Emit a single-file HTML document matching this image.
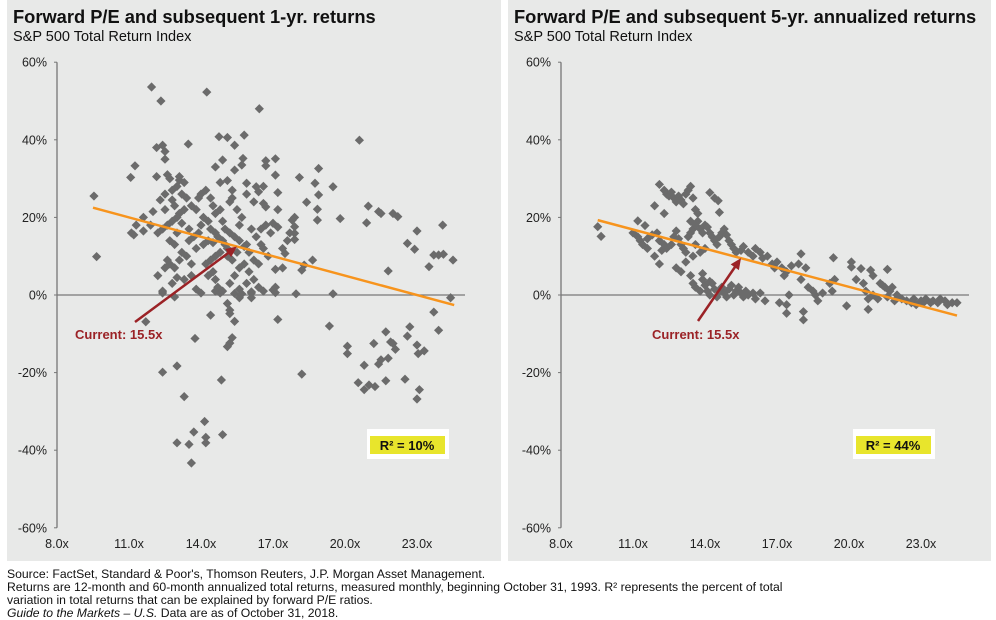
<!DOCTYPE html>
<html><head><meta charset="utf-8"><style>
body{margin:0;background:#fff;width:996px;height:620px;overflow:hidden;font-family:"Liberation Sans",sans-serif}
svg{display:block}
</style></head><body>
<svg id="c" width="996" height="620" xmlns="http://www.w3.org/2000/svg" font-family="Liberation Sans, sans-serif">
<rect x="7" y="0" width="494" height="561" fill="#e8e9e8"/>
<rect x="508" y="0" width="483" height="561" fill="#e8e9e8"/>
<text x="13" y="23" font-size="18.3" font-weight="bold" fill="#111">Forward P/E and subsequent 1-yr. returns</text>
<text x="13" y="41" font-size="14.5" fill="#111">S&amp;P 500 Total Return Index</text>
<text x="514" y="23" font-size="18.3" font-weight="bold" fill="#111">Forward P/E and subsequent 5-yr. annualized returns</text>
<text x="514" y="41" font-size="14.5" fill="#111">S&amp;P 500 Total Return Index</text>
<g id="g"></g>
<text x="7" y="578" font-size="12.2" fill="#111">Source: FactSet, Standard &amp; Poor's, Thomson Reuters, J.P. Morgan Asset Management.</text>
<text x="7" y="591" font-size="12.2" fill="#111">Returns are 12-month and 60-month annualized total returns, measured monthly, beginning October 31, 1993. R² represents the percent of total</text>
<text x="7" y="604" font-size="12.2" fill="#111">variation in total returns that can be explained by forward P/E ratios.</text>
<text x="7" y="617" font-size="12.2" fill="#111"><tspan font-style="italic">Guide to the Markets – U.S.</tspan> Data are as of October 31, 2018.</text>
</svg>
<script>
const xTicks=[8,11,14,17,20,23];
const yTicks=[60,40,20,0,-20,-40,-60];
const fit1yr=[[9.5,22.5],[24.55,-2.6]];
const fit5yr=[[9.53,19.3],[24.5,-5.3]];
const current=15.5;
const r2Labels=["R² = 10%","R² = 44%"];
const points1yr=[[9.54,25.5],[9.65,9.9],[11.94,53.6],[12.33,50],[14.24,52.3],[16.43,48],[13.47,38.9],[12.15,38],[12.4,38.6],[12.5,37],[12.5,35],[11.25,33.3],[11.07,30.3],[12.15,30.5],[12.6,31],[12.7,30],[13.1,29.6],[14.75,40.8],[15.1,40.6],[15.4,38.6],[15.8,41.2],[14.9,34.8],[15.75,35.2],[15.7,33.5],[15.4,32.2],[15.1,29.5],[16.7,34.6],[17.1,35.1],[17.1,30.9],[18.1,30.3],[18.9,32.6],[18.75,28.8],[19.5,27.9],[18.4,23.9],[18.9,25.8],[18.85,22.1],[18.85,19.3],[19.8,19.7],[20.6,39.9],[20.97,22.9],[21.4,21.5],[21.5,21],[22,21],[22.2,20.2],[20.9,18.6],[21.8,6.2],[22.6,13.3],[22.9,11.8],[23,16.5],[24.07,18],[23.5,7.3],[23.7,10.3],[23.9,10.3],[24.1,10.5],[24.5,9],[24.4,-0.7],[19.5,0.3],[17.96,0.3],[18.65,9],[18.2,6.4],[18.3,7.7],[17.2,26.4],[17.2,22],[17.9,20],[17.8,19.3],[17.9,17.6],[17.9,15.9],[17.9,14.3],[17.5,10.7],[17.4,7],[17.1,6.6],[17,1.3],[17.1,2],[16.7,33.3],[16.6,23.6],[16.7,22.7],[16.3,27.9],[15.9,28.8],[16.4,26.6],
[11.7,-6.9],[12.9,-0.5],[13.75,-11.2],[12.4,-19.9],[13,-18.3],[13.3,-26.2],[13,-38.1],[13.5,-38.5],[13.6,-43.3],[13.7,-35.3],[14.15,-32.6],[14.2,-36.7],[14.2,-38.1],[14.9,-36],[14.85,-21.9],[14.4,-5.2],[15.2,-12.4],[15.1,-13.3],[15.3,-11],[15.1,-2.2],[15.2,-3.9],[15.2,-4.8],[15.4,-6.8],[15.6,-0.7],[16.1,-0.7],[17.2,-6.3],[18.2,-20.4],[19.35,-8],[20.1,-13.2],[20.1,-15.1],[20.8,-18.1],[20.55,-22.6],[20.8,-24.4],[21,-23.2],[21.25,-23.6],[21.2,-12.5],[21.4,-17.8],[21.5,-16.7],[21.8,-16.3],[21.7,-22.1],[21.7,-9.5],[21.9,-12.1],[22,-12.5],[22.1,-14],[22.5,-21.7],[22.7,-8.2],[22.6,-10.6],[23,-12.9],[23.05,-15.1],[23.3,-14.4],[23.1,-24.4],[23,-26.8],[23.7,-4.4],[23.9,-9.1],[12.4,0.5],[14.6,1],[14.8,0.5],[15.4,0.4],[16.1,0.8],[17.1,0.6],
[12.5,26],[12.8,27],[13,28],[13.2,26],[13.4,25],[13.3,22],[13.1,21],[13,20],[12.8,19],[12.6,18],[12.4,17],[12.2,16],[11.9,18],[11.6,20],[11.3,18],[11.1,16],[11.2,15.5],[11.6,16.5],[12,21.5],[12.3,24.5],[12.5,22],[12.7,14],[12.9,13],[12.6,9],[12.7,8],[12.5,7],[12.2,5],[12.4,1],[13,4.5],[13.3,4],[13.6,5],[13.8,12],[13.5,14],[13.9,16],[14,18],[14.1,20],[13.8,22],[13.6,23],[13.9,25],[14,26],[14.2,27],[14.4,25],[14.5,23],[14.6,21],[14.3,19],[14.4,17],[14.6,16],[14.7,15],[14.9,14],[15,13],[15.1,12],[14.8,11],[14.6,10],[14.4,9],[14.2,8],[14.5,6],[14.3,5],[14.6,4],[14.7,2],[14.9,1],[15.2,3],[15.4,5],[15.6,7],[15.8,8],[16,6],[16.2,4],[16.4,2],[16.6,1],[16.2,9],[16,11],[15.9,13],[15.6,14],[15.4,15],[15.2,16],[15,17],[14.9,19],[14.8,22],[15.2,24],[15.3,25],[15.5,22],[15.7,20],[15.6,18],[16.1,17],[16.3,15],[16.5,13],[16.6,12],[16.8,10],[16.9,16],[16.7,18],[16.5,17],[16.2,24],[16.6,28],[16.4,8],[15.9,3],[15.6,1.5],[14,0.5],[13.8,1.5],[13.6,8],[13.4,10],[13.2,11],[13.1,9],[12.9,7],[12.8,3],[14.1,13],[14.3,14],[14.5,13.5],[13.7,15],[13.5,17],[13.2,18.5],[13,16],[12.9,23],[12.8,24.5],[13.3,29],[13.1,30.5],[14.6,33],[15.3,27],[15.9,26],[14.8,29],[15.1,10],[15.3,9],[15.5,11],[15.8,12.5],[17.4,12],[17.6,14],[17.7,16],[17.2,17.5],[17,18.5],[15.7,0.3],[16.1,0.5]];
const points5yr=[[9.53,17.6],[9.67,15.1],[11.2,19.1],[11.5,17.9],[11,16],[11.2,15],[11.3,14],[11.4,13],[11.6,14.5],[11.8,15.5],[12,16],[12.1,14],[12.3,13],[12.4,12],[12.2,11.5],[12.6,13],[12.7,15],[12.8,16.5],[12.9,14.5],[13,13],[13.1,12],[13.2,11],[13.3,15],[13.4,16],[13.5,17],[13.6,18],[13.7,19],[13.8,17],[13.9,16],[14,18],[14.1,17.5],[14.2,16],[14.3,15],[14.4,14],[14.5,13],[14.6,15],[14.7,16],[14.8,17],[14.9,15.5],[15,14],[15.1,13],[15.2,12],[15.3,11],[15.5,11.5],[15.6,12.5],[15.8,11],[16,10],[16.1,12],[16.3,11],[16.4,9.5],[16.6,10],[16.8,8],[16.9,7],[17,8.5],[17.2,7],[17.4,6],[17.3,5],[17.6,7.5],[13.5,10],[13.2,8.5],[13,6],[12.8,7],[11.9,10],[11.6,12],[12.1,8],[13.6,13],[14,12],[13.8,11],
[12.1,28.5],[12.3,27],[12.4,26],[12.5,25.5],[12.6,26.5],[12.7,25],[12.8,24],[12.9,25.5],[13,24.5],[13.1,23.5],[13.2,26],[13.3,27],[13.4,28],[13.5,25],[13.6,22],[13.7,21],[13.4,19],[14.2,26.4],[14.4,25],[14.55,24.3],[14.6,21.3],[11.9,23],[12.3,21],
[13.4,5],[13.5,3],[13.6,2],[13.8,1],[13.9,4],[14,2.5],[14.1,1],[14.2,0],[14.3,3],[14.4,1.5],[14.5,-0.5],[14.6,1],[14.7,2],[14.8,0.5],[14.9,-0.5],[15,1.5],[15.1,2.5],[15.2,0],[15.3,1],[15.4,2],[15.5,0.5],[15.6,-0.5],[15.7,1],[15.8,0],[16,0.5],[16.1,-1],[16.3,0.5],[16.5,-1.5],[13.9,5.5],[14.2,3.5],
[17.1,-2],[17.4,-2.5],[17.4,-4.7],[17.5,0],[17.9,8],[18,10.6],[18.1,-4.3],[18.1,-6.4],[18,4],[18.2,7],[18.3,2],[18.5,1],[18.6,0],[18.7,-1.5],[18.9,0.5],[19.2,3],[19.35,9.6],[19.3,1],[19.4,4],[19.9,-2.8],[20.1,8.5],[20.1,7.2],[20.3,4],[20.5,6.8],[20.6,3],[20.7,1],[20.8,-1],[20.8,-3.7],[20.9,6.4],[21,5],[21,0],[21.2,-1],[21.3,3],[21.4,2.5],[21.5,2],[21.6,6.6],[21.6,-0.5],[21.7,1],[21.8,2],[21.9,-1.5],[22,0],[22.2,-1],[22.4,-1.5],[22.6,-2],[22.7,-1],[22.8,-2.5],[23,-1.5],[23.1,-2],[23.2,-1],[23.4,-2],[23.5,-1.5],[23.7,-2],[23.8,-1],[24,-1.5],[24.1,-2.5],[24.3,-2],[24.5,-2]];

const NS='http://www.w3.org/2000/svg';
const g=document.getElementById('g');
function mk(t,a){const e=document.createElementNS(NS,t);for(const k in a)e.setAttribute(k,a[k]);g.appendChild(e);return e;}
const yS=r=>295-r*3.88;
function panel(ax,pts,fit,prefix,cur,r2,boxX,arrowStart,labelPos){
  const xS=pe=>ax+(pe-8)*24;
  let e=mk('line',{x1:ax,y1:yS(60),x2:ax,y2:yS(-60),stroke:'#777','stroke-width':1.3});
  
  
  yTicks.forEach(v=>{
    let t=mk('line',{x1:ax-3,y1:yS(v),x2:ax,y2:yS(v),stroke:'#777'});
    
    
    let l=mk('text',{x:ax-10,y:yS(v)+4.5,'font-size':12.5,'text-anchor':'end',fill:'#222'});
    l.textContent=v+'%';
    
    
  });
  let z=mk('line',{x1:ax,y1:yS(0),x2:xS(25),y2:yS(0),stroke:'#777','stroke-width':1.3});
  
  
  xTicks.forEach(v=>{
    let l=mk('text',{x:xS(v),y:548,'font-size':12.5,'text-anchor':'middle',fill:'#222'});
    l.textContent=v.toFixed(1)+'x';
    
    
  });
  pts.forEach(p=>{
    const cx=xS(p[0]),cy=yS(p[1]);
    let d=mk('path',{d:`M${cx} ${cy-4.6}L${cx+4.6} ${cy}L${cx} ${cy+4.6}L${cx-4.6} ${cy}Z`,fill:'#6b6b6b'});
    
    
  });
  let f=mk('line',{x1:xS(fit[0][0]),y1:yS(fit[0][1]),x2:xS(fit[1][0]),y2:yS(fit[1][1]),stroke:'#f7941d','stroke-width':2.5});
  
  
  const tx=xS(cur),ty=yS(fit[0][1]+(fit[1][1]-fit[0][1])*(cur-fit[0][0])/(fit[1][0]-fit[0][0]));
  const sx=arrowStart[0],sy=arrowStart[1];
  const dx=tx-sx,dy=ty-sy,L=Math.hypot(dx,dy),ux=dx/L,uy=dy/L;
  let a=mk('line',{x1:sx,y1:sy,x2:tx-ux*9,y2:ty-uy*9,stroke:'#9b2226','stroke-width':2.5});
  
  
  const bx=tx-ux*11,by=ty-uy*11;
  let h=mk('path',{d:`M${tx} ${ty} L${bx-uy*5} ${by+ux*5} L${bx+uy*5} ${by-ux*5} Z`,fill:'#9b2226'});
  
  
  let ct=mk('text',{x:labelPos[0],y:labelPos[1],'font-size':13,'font-weight':'bold',fill:'#9b2226'});
  ct.textContent='Current: '+cur+'x';
  
  
  let b=mk('rect',{x:boxX,y:429,width:82,height:30,fill:'#fff'});
  
  
  let yb=mk('rect',{x:boxX+3,y:436,width:75,height:18,fill:'#e8e52c'});
  
  
  let rt=mk('text',{x:boxX+40,y:450,'font-size':13,'font-weight':'bold','text-anchor':'middle',fill:'#111'});
  rt.textContent=r2;
  
  
}
panel(57,points1yr,fit1yr,'one-year',current,r2Labels[0],367,[135,322],[75,339]);
panel(561,points5yr,fit5yr,'five-year',current,r2Labels[1],853,[698,321],[652,339]);
</script>
</body></html>
